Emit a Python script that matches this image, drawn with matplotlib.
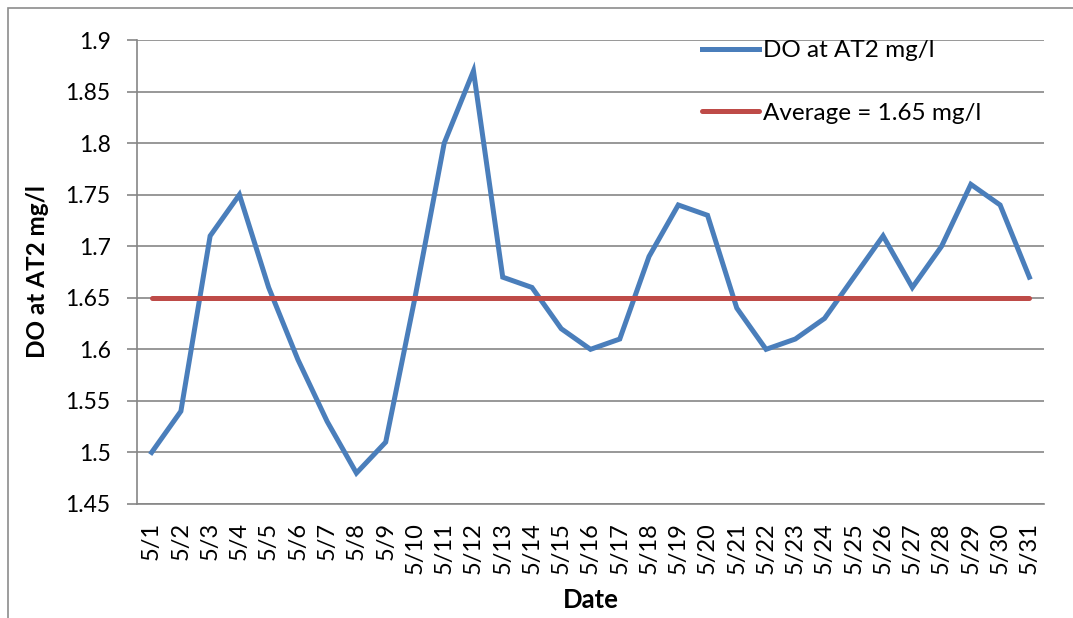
import matplotlib.pyplot as plt
from matplotlib.patches import Rectangle

# daily DO readings at AT2, May
dates = ['5/%d' % d for d in range(1, 32)]
do_values = [1.50, 1.54, 1.71, 1.75, 1.66, 1.59, 1.53, 1.48, 1.51, 1.65,
             1.80, 1.87, 1.67, 1.66, 1.62, 1.60, 1.61, 1.69, 1.74, 1.73,
             1.64, 1.60, 1.61, 1.63, 1.67, 1.71, 1.66, 1.70, 1.76, 1.74,
             1.67]
average = 1.65
y_ticks = [1.45, 1.5, 1.55, 1.6, 1.65, 1.7, 1.75, 1.8, 1.85, 1.9]
y_tick_labels = ['1.45', '1.5', '1.55', '1.6', '1.65', '1.7', '1.75', '1.8', '1.85', '1.9']

plt.rcParams['font.family'] = ['Lato', 'DejaVu Sans']

fig = plt.figure(figsize=(10.73, 6.18), dpi=100)
ax = fig.add_axes([137 / 1073, 1 - 504 / 618, (1044 - 137) / 1073, (504 - 40) / 618])

# chart area border (cropped on the right and bottom)
fig.patches.append(Rectangle((8 / 1073, -0.1), 1.2, 1 - 8 / 618 + 0.1,
                             transform=fig.transFigure, fill=False,
                             edgecolor='#8c8c8c', linewidth=1.2))

x = list(range(len(dates)))
ax.plot(x, do_values, color='#4A7EBB', linewidth=3.6, label='DO at AT2 mg/l',
        solid_joinstyle='miter')
ax.plot(x, [average] * len(dates), color='#BE4B48', linewidth=3.6,
        label='Average = 1.65 mg/l', solid_capstyle='round')

ax.set_xlim(-0.5, len(dates) - 0.5)
ax.set_ylim(1.45, 1.9)
ax.set_yticks(y_ticks)
ax.set_yticklabels(y_tick_labels)
ax.set_xticks(x)
ax.set_xticklabels(dates, rotation=90)

ax.grid(axis='y', color='#868686', linewidth=1.2)
ax.set_axisbelow(True)
for side in ['top', 'right']:
    ax.spines[side].set_visible(False)
for side in ['left', 'bottom']:
    ax.spines[side].set_color('#868686')
    ax.spines[side].set_linewidth(1.2)

ax.tick_params(axis='y', length=7, width=1.2, color='#868686', pad=12, labelsize=16.5)
ax.tick_params(axis='x', length=0, pad=13, labelsize=17)

ax.set_ylabel('DO at AT2 mg/l', fontsize=17.5, fontweight='bold', labelpad=12)
ax.set_xlabel('Date', fontsize=18.5, fontweight='bold', labelpad=10)

ax.legend(loc='upper left', bbox_to_anchor=(690 / 1073, 1 - 28 / 618),
          bbox_transform=fig.transFigure, frameon=False, fontsize=17.5,
          handlelength=2.35, handletextpad=0.15, labelspacing=1.7,
          borderpad=0)

fig.savefig('out.png', dpi=100)
